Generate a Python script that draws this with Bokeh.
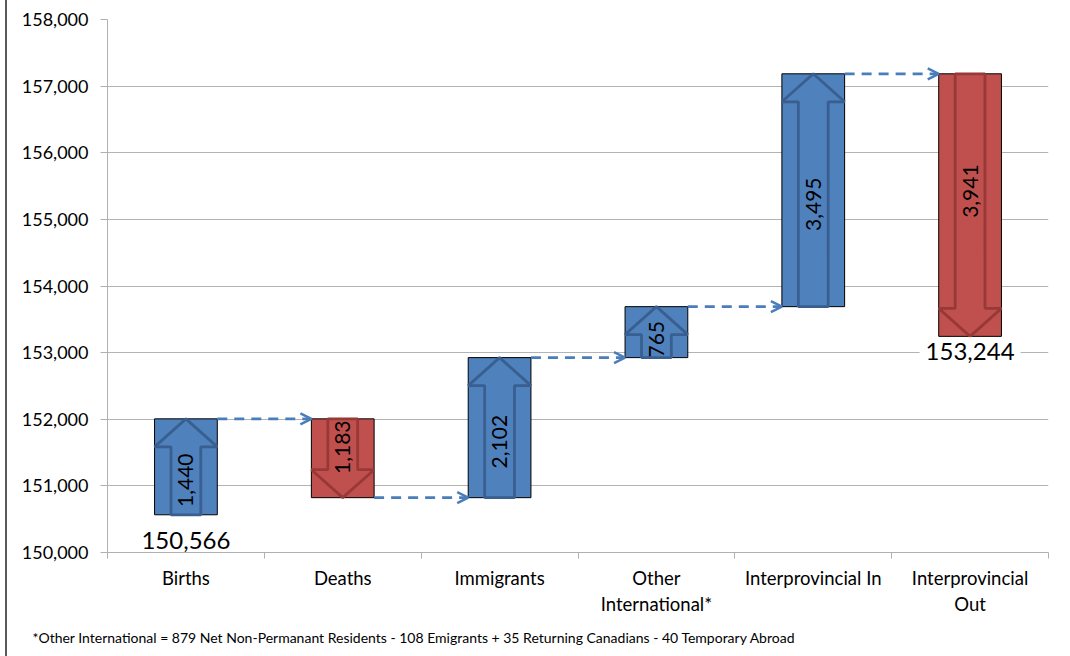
from bokeh.plotting import figure
from bokeh.models import (ColumnDataSource, FixedTicker, NumeralTickFormatter, Range1d,
                          Arrow, OpenHead, Title)
from bokeh.core.properties import value
from bokeh.embed import file_html
from bokeh.resources import INLINE

# ---- data ----
categories = ["Births", "Deaths", "Immigrants", "Other\nInternational*",
              "Interprovincial In", "Interprovincial\nOut"]
start_value = 150566
changes = [1440, -1183, 2102, 765, 3495, -3941]
y_ticks = [150000, 151000, 152000, 153000, 154000, 155000, 156000, 157000, 158000]
footnote = ("*Other International = 879 Net Non-Permanant Residents - 108 Emigrants "
            "+ 35 Returning Canadians - 40 Temporary Abroad")

FONT = "Lato"
BLUE, RED = "#4f81bd", "#c0504d"
BLUE_EDGE, RED_EDGE = "#385f90", "#983937"

# ---- derived waterfall geometry ----
n = len(categories)
centers = [i + 0.5 for i in range(n)]
bw = 0.4
levels = [start_value]
for c in changes:
    levels.append(levels[-1] + c)
bottoms = [min(levels[i], levels[i + 1]) for i in range(n)]
tops = [max(levels[i], levels[i + 1]) for i in range(n)]
colors = [BLUE if c > 0 else RED for c in changes]
edges = [BLUE_EDGE if c > 0 else RED_EDGE for c in changes]

p = figure(width=1055, height=656, output_backend="svg", toolbar_location=None,
           x_range=Range1d(0, n), y_range=Range1d(150000, 158000),
           min_border_left=100, min_border_right=14, min_border_top=19, min_border_bottom=104)
p.outline_line_color = None
p.background_fill_color = "white"
p.border_fill_color = "white"
p.styles = {"border-left": "2.5px solid #595959", "margin-left": "5px"}

# axes
p.xaxis.ticker = FixedTicker(ticks=centers, minor_ticks=list(range(n + 1)))
p.xaxis.major_label_overrides = {c: lab for c, lab in zip(centers, categories)}
p.xaxis.major_tick_line_color = None
p.xaxis.minor_tick_line_color = "#b0b0b0"
p.xaxis.minor_tick_in = 0
p.xaxis.minor_tick_out = 6
p.xaxis.axis_line_color = "#b0b0b0"
p.xaxis.major_label_text_font = FONT
p.xaxis.major_label_text_font_size = "18.5px"
p.xaxis.major_label_text_color = "black"
p.xaxis.major_label_standoff = 8

p.yaxis.ticker = FixedTicker(ticks=y_ticks)
p.yaxis.formatter = NumeralTickFormatter(format="0,0")
p.yaxis.axis_line_color = "#b0b0b0"
p.yaxis.major_tick_line_color = "#b0b0b0"
p.yaxis.major_tick_in = 0
p.yaxis.major_tick_out = 7
p.yaxis.minor_tick_line_color = None
p.yaxis.major_label_text_font = FONT
p.yaxis.major_label_text_font_size = "18px"
p.yaxis.major_label_text_color = "black"
p.yaxis.major_label_standoff = 12

p.xgrid.grid_line_color = None
p.ygrid.ticker = FixedTicker(ticks=y_ticks)
p.ygrid.grid_line_color = "#b3b3b3"

# bars
bars = ColumnDataSource(dict(left=[c - bw / 2 for c in centers], right=[c + bw / 2 for c in centers],
                             bottom=bottoms, top=tops, color=colors))
p.quad(left="left", right="right", bottom="bottom", top="top", fill_color="color",
       line_color="black", line_width=1, source=bars)

# block arrows inside bars
head_h = 420
sw = 0.095
hw = bw / 2
xs, ys = [], []
lab_y = []
for c, b, t, d in zip(centers, bottoms, tops, changes):
    shift = head_h / 2 * min(1, (t - b) / 1500)
    if d > 0:
        xs.append([c - sw, c - sw, c - hw, c, c + hw, c + sw, c + sw])
        ys.append([b, t - head_h, t - head_h, t, t - head_h, t - head_h, b])
        lab_y.append((b + t) / 2 - shift)
    else:
        xs.append([c - sw, c - sw, c - hw, c, c + hw, c + sw, c + sw])
        ys.append([t, b + head_h, b + head_h, b, b + head_h, b + head_h, t])
        lab_y.append((b + t) / 2 + shift)
p.patches(xs="xs", ys="ys", fill_color="fill", line_color="edge", line_width=2.8,
          source=ColumnDataSource(dict(xs=xs, ys=ys, fill=colors, edge=edges)))

# value labels (rotated)
p.text(x="x", y="y", text="t", angle=1.5708, text_align="center", text_baseline="middle",
       text_font=value(FONT), text_font_size="21px", text_color="black",
       source=ColumnDataSource(dict(x=centers, y=lab_y, t=[f"{abs(c):,}" for c in changes])))

# start / end total labels
p.text(x=[centers[0], centers[-1]], y=[bottoms[0] - 380, bottoms[-1] - 230],
       text=[f"{start_value:,}", f"{levels[-1]:,}"], text_align="center", text_baseline="middle",
       text_font=value(FONT), text_font_size="24px", text_color="black",
       background_fill_color="white", padding=6)

# dashed connectors
conn = ColumnDataSource(dict(xs=[centers[i] + bw / 2 for i in range(n - 1)],
                             xe=[centers[i + 1] - bw / 2 for i in range(n - 1)],
                             y=levels[1:n]))
p.add_layout(Arrow(end=OpenHead(size=11, line_color="#4a7ebb", line_width=2.5),
                   x_start="xs", y_start="y", x_end="xe", y_end="y", source=conn,
                   line_color="#4a7ebb", line_width=2.8, line_dash="10 7"))

# footnote
p.add_layout(Title(text=footnote, align="left", offset=-75, text_font=FONT,
                   text_font_size="14px", text_font_style="normal", text_color="black",
                   standoff=19), "below")

open("out.html", "w").write(file_html(p, INLINE))
